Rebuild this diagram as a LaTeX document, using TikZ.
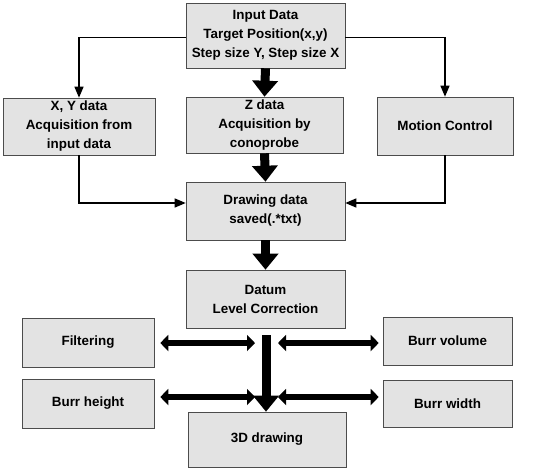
\documentclass[tikz,border=0pt]{standalone}
\usepackage{fontspec}
\setmainfont{Liberation Sans}
\usetikzlibrary{arrows.meta}
\begin{document}
\begin{tikzpicture}[x=1pt,y=-1pt,
  box/.style={draw=black!70,line width=0.6pt,fill=gray!22,align=center,
    inner sep=1pt,font=\fontsize{13.4}{19}\selectfont\bfseries},
  thin/.style={line width=1.3pt,-{Triangle[width=9pt,length=11pt]}},
  fat/.style={line width=9pt,-{Triangle[width=25pt,length=16pt]}},
  dbl/.style={line width=5.5pt,{Triangle[width=16pt,length=8pt]}-{Triangle[width=16pt,length=8pt]}}]
\useasboundingbox (0,0) rectangle (540,467);
\node[box,minimum width=159pt,minimum height=65pt] (top) at (265.5,35.5) {Input Data\\Target Position(x,y)\\Step size Y, Step size X};
\node[box,minimum width=157pt,minimum height=56pt] (zd) at (264.5,125) {Z data\\Acquisition by\\conoprobe};
\node[box,minimum width=152pt,minimum height=57pt] (xy) at (79,126.5) {X, Y data\\Acquisition from\\input data};
\node[box,minimum width=136pt,minimum height=58pt] (mc) at (445,126) {Motion Control};
\node[box,minimum width=159pt,minimum height=58pt] (dd) at (265.5,211) {Drawing data\\saved(.*txt)};
\node[box,minimum width=159pt,minimum height=58pt] (dt) at (265.5,299) {Datum\\Level Correction};
\node[box,minimum width=132pt,minimum height=49pt] (fi) at (88,342.5) {Filtering};
\node[box,minimum width=129pt,minimum height=48pt] (bv) at (447.5,341) {Burr volume};
\node[box,minimum width=132pt,minimum height=49pt] (bh) at (88,403.5) {Burr height};
\node[box,minimum width=129pt,minimum height=47pt] (bw) at (447.5,403.5) {Burr width};
\node[box,minimum width=158pt,minimum height=55pt] (d3) at (267,439.5) {3D drawing};
% thin connectors
\draw[thin] ([yshift=-2pt]top.west) -| (xy.north);
\draw[thin] ([yshift=-2pt]top.east) -| (mc.north);
\draw[thin] (xy.south) |- ([yshift=8pt]dd.west);
\draw[thin] (mc.south) |- ([yshift=8pt]dd.east);
% fat arrows
\draw[fat] (top.south) -- (zd.north);
\draw[fat] (zd.south) -- (dd.north);
\draw[fat] (dd.south) -- (dt.north);
\draw[fat,shorten <=7pt] ([xshift=0.5pt]dt.south) -- ([xshift=-1pt]d3.north);
% double arrows
\coordinate (l1) at (255,343);
\coordinate (r1) at (278,343);
\coordinate (l2) at (255,397);
\coordinate (r2) at (278,397);
\draw[dbl,shorten <=6pt] (fi.east |- l1) -- (l1);
\draw[dbl,shorten >=4pt] (r1) -- (bv.west |- r1);
\draw[dbl,shorten <=6pt] (bh.east |- l2) -- (l2);
\draw[dbl,shorten >=4pt] (r2) -- (bw.west |- r2);
\end{tikzpicture}
\end{document}
